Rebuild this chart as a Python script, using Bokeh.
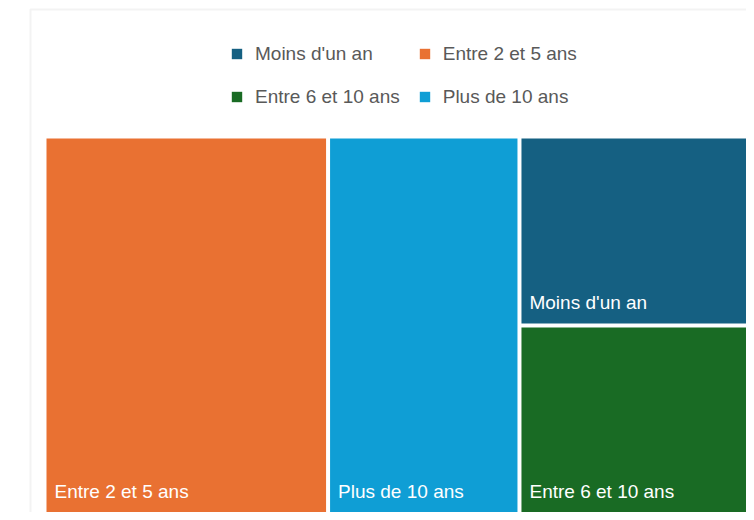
from bokeh.plotting import figure
from bokeh.models import Range1d, Legend, LegendItem, BoxAnnotation, ColumnDataSource
from bokeh.embed import file_html
from bokeh.resources import INLINE
from bokeh.core.properties import value

categories = ["Moins d'un an", "Entre 2 et 5 ans", "Entre 6 et 10 ans", "Plus de 10 ans"]
values = [34, 80, 34, 54]
colors = ["#156082", "#E97132", "#196B24", "#0F9ED5"]

W, H = 746, 512
FONT = "Liberation Sans"

p = figure(width=W, height=H, output_backend="svg", toolbar_location=None,
           x_range=Range1d(0, W), y_range=Range1d(H, 0), min_border=0)
p.axis.visible = False
p.xgrid.visible = False
p.ygrid.visible = False
p.outline_line_color = None
p.background_fill_color = "white"
p.border_fill_color = "white"


def worst(row, side):
    s = sum(row)
    return max(max(side * side * r / (s * s), s * s / (side * side * r)) for r in row)


def layout_row(row, x, y, w, h):
    s = sum(row)
    rects = []
    if w >= h:
        cw = s / h
        cy = y
        for r in row:
            rh = r / cw
            rects.append((x, cy, cw, rh))
            cy += rh
        return rects, (x + cw, y, w - cw, h)
    rh = s / w
    cx = x
    for r in row:
        cwid = r / rh
        rects.append((cx, y, cwid, rh))
        cx += cwid
    return rects, (x, y + rh, w, h - rh)


def squarify(areas, x, y, w, h):
    rects, row, i = [], [], 0
    while i < len(areas):
        side = min(w, h)
        a = areas[i]
        if not row or worst(row + [a], side) <= worst(row, side):
            row.append(a)
            i += 1
        else:
            r, (x, y, w, h) = layout_row(row, x, y, w, h)
            rects += r
            row = []
    if row:
        r, _ = layout_row(row, x, y, w, h)
        rects += r
    return rects


# treemap region (figure pixels)
X0, Y0, TW, TH = 44, 136, 716, 378
GAP = 2
order = sorted(range(len(values)), key=lambda i: -values[i])
total = sum(values)
areas = [values[i] / total * TW * TH for i in order]
rects = squarify(areas, X0, Y0, TW, TH)

left = [0.0] * len(values)
right = [0.0] * len(values)
top = [0.0] * len(values)
bottom = [0.0] * len(values)
for k, idx in enumerate(order):
    x, y, w, h = rects[k]
    left[idx] = x + GAP
    right[idx] = x + w - GAP
    top[idx] = y + GAP
    bottom[idx] = y + h - GAP

src = ColumnDataSource(dict(left=left, right=right, top=top, bottom=bottom,
                            color=colors, cat=categories,
                            lx=[l + 8 for l in left], ly=[b - 21 for b in bottom]))

# container border
p.add_layout(BoxAnnotation(left=30, top=9, right=2000, bottom=2000,
                           fill_alpha=0, line_color="#d6d6d6", line_width=2))

r = p.quad(left="left", right="right", top="top", bottom="bottom", source=src,
           fill_color="color", line_color=None)

p.text(x="lx", y="ly", text="cat", source=src, text_color="white",
       text_font=value(FONT), text_font_size="19px", text_baseline="alphabetic")

# legend laid out column-major: col 1 = items 0, 2 ; col 2 = items 1, 3
legend_order = [0, 2, 1, 3]
items = [LegendItem(label=categories[i], renderers=[r], index=i) for i in legend_order]
legend = Legend(items=items, ncols=2, location=(230, 403),
                label_text_font=FONT, label_text_font_size="19px", label_text_color="#595959",
                glyph_width=13, glyph_height=13, label_standoff=12, spacing=18,
                padding=0, margin=0, border_line_color=None, background_fill_alpha=0,
                label_height=25)
p.add_layout(legend)

open("out.html", "w").write(file_html(p, INLINE))
